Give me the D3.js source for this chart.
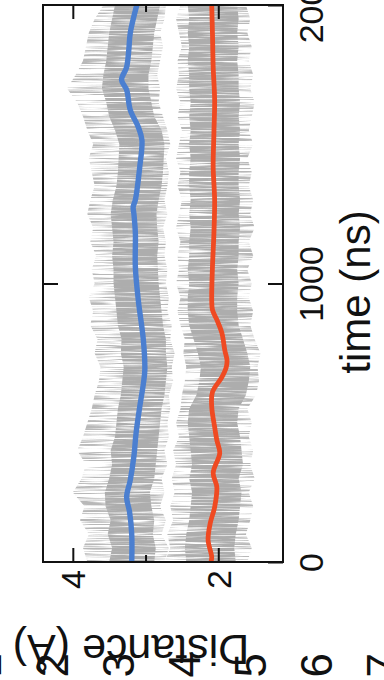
<!DOCTYPE html>
<html>
<head>
<meta charset="utf-8">
<script src="https://cdn.jsdelivr.net/npm/d3@7"></script>
<style>
  html, body { margin: 0; padding: 0; background: #fff; overflow: hidden; }
  svg { display: block; }
</style>
</head>
<body>
<script>
// ---------------- data ----------------
// raw-trace envelopes sampled every 50 ns (0 .. 2000 ns), distance in Å
const sampleTimes = d3.range(0, 2001, 50);

const blueOuterHi = [3.80,3.86,3.78,3.90,3.84,4.00,3.88,3.82,3.94,3.86,3.80,3.74,3.70,3.64,3.62,3.70,3.66,3.76,3.72,3.78,3.70,3.74,3.68,3.76,3.72,3.80,3.76,3.70,3.74,3.78,3.72,3.80,3.86,3.94,4.08,3.96,3.86,3.82,3.78,3.70,3.58];
const blueCoreHi  = [3.50,3.46,3.52,3.48,3.55,3.56,3.50,3.46,3.48,3.42,3.40,3.38,3.34,3.32,3.30,3.34,3.33,3.38,3.40,3.42,3.44,3.44,3.46,3.44,3.46,3.48,3.45,3.40,3.38,3.37,3.36,3.42,3.50,3.54,3.60,3.58,3.54,3.52,3.50,3.46,3.42];
const blueCoreLo  = [2.88,2.86,2.90,2.88,2.92,2.94,2.88,2.86,2.84,2.82,2.80,2.78,2.74,2.72,2.70,2.72,2.72,2.76,2.78,2.80,2.82,2.83,2.84,2.82,2.84,2.85,2.82,2.78,2.76,2.75,2.74,2.78,2.88,2.92,2.96,2.96,2.92,2.90,2.88,2.84,2.80];
const blueOuterLo = [2.74,2.68,2.78,2.72,2.80,2.74,2.78,2.70,2.74,2.68,2.70,2.66,2.68,2.62,2.64,2.60,2.66,2.64,2.70,2.68,2.72,2.70,2.74,2.72,2.76,2.70,2.74,2.70,2.68,2.72,2.66,2.70,2.76,2.82,2.80,2.84,2.80,2.76,2.80,2.74,2.72];

const redOuterHi = [2.74,2.66,2.70,2.62,2.66,2.60,2.64,2.58,2.62,2.54,2.58,2.52,2.50,2.46,2.44,2.48,2.46,2.52,2.56,2.52,2.58,2.54,2.56,2.52,2.58,2.54,2.50,2.56,2.52,2.58,2.54,2.50,2.56,2.52,2.58,2.54,2.56,2.50,2.54,2.58,2.52];
const redCoreHi  = [2.44,2.46,2.44,2.40,2.38,2.36,2.40,2.36,2.38,2.40,2.42,2.40,2.30,2.26,2.24,2.28,2.34,2.40,2.42,2.42,2.40,2.42,2.40,2.40,2.38,2.40,2.38,2.40,2.40,2.38,2.40,2.38,2.40,2.38,2.40,2.40,2.42,2.40,2.42,2.40,2.42];
const redCoreLo  = [1.76,1.78,1.76,1.72,1.70,1.68,1.72,1.66,1.68,1.70,1.74,1.72,1.62,1.58,1.56,1.60,1.66,1.72,1.74,1.74,1.72,1.74,1.72,1.72,1.70,1.72,1.70,1.72,1.72,1.70,1.72,1.70,1.72,1.70,1.72,1.72,1.74,1.72,1.74,1.72,1.74];
const redOuterLo = [1.60,1.54,1.62,1.56,1.52,1.58,1.50,1.56,1.52,1.58,1.54,1.60,1.48,1.44,1.46,1.42,1.50,1.56,1.52,1.58,1.54,1.60,1.52,1.58,1.50,1.56,1.52,1.58,1.54,1.60,1.52,1.58,1.54,1.50,1.56,1.52,1.58,1.54,1.60,1.56,1.62];

// running averages
const blueTime = [0,100,180,233,294,380,463,557,640,690,797,941,1059,1181,1250,1275,1300,1418,1515,1562,1623,1695,1731,1777,1840,1900,2000];
const blueMean = [3.19,3.19,3.22,3.26,3.21,3.16,3.13,3.08,3.03,3.01,3.03,3.10,3.14,3.14,3.16,3.17,3.14,3.08,3.05,3.10,3.21,3.26,3.33,3.26,3.23,3.21,3.12];

const redTime = [0,18,79,140,197,269,320,391,438,485,557,610,664,700,725,760,822,870,905,941,1059,1180,1300,1418,1540,1659,1777,1900,2000];
const redMean = [2.10,2.09,2.14,2.11,2.05,2.02,2.07,1.98,2.02,2.05,2.09,2.08,1.95,1.89,1.88,1.91,1.95,2.02,2.08,2.09,2.08,2.06,2.05,2.07,2.06,2.05,2.07,2.08,2.09];

// axes
const distMajorTicks = [2, 4];
const distMinorTicks = [3];
const timeTicks = [0, 1000, 2000];
const timeInnerTicks = [1000];
const distDomain = [4.41, 1.11];
const timeDomain = [0, 2000];
const xTitle = "time (ns)";
const yTitle = "Distance (Å)";
// clipped neighbouring-panel labels at the bottom edge
const strayLabels = [1, 2, 3, 4, 5, 6, 7];

// ---------------- drawing ----------------
const W = 384, H = 680;
const L = 43, R = 283, T = 5, B = 562;
const FONT = "'Liberation Sans', Arial, Helvetica, sans-serif";

const svg = d3.select("body").append("svg").attr("width", W).attr("height", H);
svg.append("rect").attr("width", W).attr("height", H).attr("fill", "#fff");

const x = d3.scaleLinear().domain(distDomain).range([L, R]);
const y = d3.scaleLinear().domain(timeDomain).range([B, T]);

const defs = svg.append("defs");
defs.append("clipPath").attr("id", "plotClip")
  .append("rect").attr("x", L).attr("y", T).attr("width", R - L).attr("height", B - T);

function streakFilter(id, gain, bias, seed) {
  const f = defs.append("filter").attr("id", id)
    .attr("filterUnits", "userSpaceOnUse")
    .attr("x", L).attr("y", T).attr("width", R - L).attr("height", B - T);
  f.append("feTurbulence").attr("type", "fractalNoise")
    .attr("baseFrequency", "0.018 0.7").attr("numOctaves", 2).attr("seed", seed).attr("result", "n");
  f.append("feColorMatrix").attr("in", "n").attr("type", "matrix")
    .attr("values", `0 0 0 0 0  0 0 0 0 0  0 0 0 0 0  ${gain} 0 0 0 ${bias}`).attr("result", "m");
  f.append("feComposite").attr("in", "SourceGraphic").attr("in2", "m").attr("operator", "in");
}
streakFilter("streakOuter", 4.5, -2.0, 4);
streakFilter("streakCore", 4.0, -1.05, 9);

const plot = svg.append("g").attr("clip-path", "url(#plotClip)");

function band(lo, hi) {
  const rows = sampleTimes.map((t, i) => ({ t, lo: lo[i], hi: hi[i] }));
  return d3.area()
    .y(d => y(d.t))
    .x0(d => x(d.lo))
    .x1(d => x(d.hi))
    .curve(d3.curveLinear)(rows);
}

const outer = plot.append("g").attr("filter", "url(#streakOuter)");
outer.append("path").attr("d", band(blueOuterLo, blueOuterHi)).attr("fill", "#b8b8b8");
outer.append("path").attr("d", band(redOuterLo, redOuterHi)).attr("fill", "#b8b8b8");

const core = plot.append("g").attr("filter", "url(#streakCore)");
core.append("path").attr("d", band(blueCoreLo, blueCoreHi)).attr("fill", "#adadad");
core.append("path").attr("d", band(redCoreLo, redCoreHi)).attr("fill", "#adadad");

const line = d3.line().x(d => x(d[1])).y(d => y(d[0])).curve(d3.curveCatmullRom.alpha(0.5));
plot.append("path").attr("d", line(blueTime.map((t, i) => [t, blueMean[i]])))
  .attr("fill", "none").attr("stroke", "#4b7fd0").attr("stroke-width", 5.4).attr("stroke-linecap", "round");
plot.append("path").attr("d", line(redTime.map((t, i) => [t, redMean[i]])))
  .attr("fill", "none").attr("stroke", "#ef4a22").attr("stroke-width", 4.8).attr("stroke-linecap", "round");

// frame
svg.append("rect").attr("x", L).attr("y", T).attr("width", R - L).attr("height", B - T)
  .attr("fill", "none").attr("stroke", "#111").attr("stroke-width", 2);

function styleAxis(g) {
  g.attr("font-family", FONT).attr("font-size", 34);
  g.select(".domain").remove();
  g.selectAll(".tick line").attr("stroke", "#111").attr("stroke-width", 2);
  g.selectAll("text").attr("fill", "#111");
}

// distance axis (bottom, with labels)
svg.append("g").attr("transform", `translate(0,${B})`)
  .call(d3.axisBottom(x).tickValues(distMajorTicks).tickSize(-14).tickFormat(d3.format("d")))
  .call(styleAxis)
  .call(g => g.selectAll("text")
    .attr("x", 0).attr("y", 0).attr("dy", "0.35em")
    .attr("text-anchor", "end")
    .attr("transform", "translate(0,8) rotate(-90)"));
svg.append("g").attr("transform", `translate(0,${B})`)
  .call(d3.axisBottom(x).tickValues(distMinorTicks).tickSize(-7).tickFormat(""))
  .call(styleAxis);
// distance axis mirror (top)
svg.append("g").attr("transform", `translate(0,${T})`)
  .call(d3.axisTop(x).tickValues(distMajorTicks).tickSize(-14).tickFormat(""))
  .call(styleAxis);
svg.append("g").attr("transform", `translate(0,${T})`)
  .call(d3.axisTop(x).tickValues(distMinorTicks).tickSize(-7).tickFormat(""))
  .call(styleAxis);

// time axis (right, with labels)
svg.append("g").attr("transform", `translate(${R},0)`)
  .call(d3.axisRight(y).tickValues(timeTicks).tickSize(-15).tickFormat(d3.format("d")))
  .call(styleAxis)
  .call(g => g.selectAll("text")
    .attr("x", 0).attr("y", 0).attr("dy", 0)
    .attr("text-anchor", "middle")
    .attr("transform", "translate(40,0) rotate(-90)"));
// time axis mirror (left)
svg.append("g").attr("transform", `translate(${L},0)`)
  .call(d3.axisLeft(y).tickValues(timeInnerTicks).tickSize(-15).tickFormat(""))
  .call(styleAxis);

// axis titles
svg.append("text").text(xTitle)
  .attr("transform", `translate(370,292) rotate(-90)`)
  .attr("text-anchor", "middle").attr("font-family", FONT).attr("font-size", 42).attr("fill", "#111");
svg.append("text").text(yTitle)
  .attr("transform", `translate(131,635) rotate(180)`)
  .attr("text-anchor", "middle").attr("font-family", FONT).attr("font-size", 43).attr("fill", "#111");

// clipped labels from neighbouring panel
const sx = d3.scaleLinear().domain([1, 7]).range([-14, 383]);
svg.append("g").selectAll("text").data(strayLabels).join("text")
  .text(d => d)
  .attr("transform", d => `translate(${sx(d)},653) rotate(-90)`)
  .attr("dy", "0.35em").attr("text-anchor", "end")
  .attr("font-family", FONT).attr("font-size", 44).attr("fill", "#111");
</script>
</body>
</html>
